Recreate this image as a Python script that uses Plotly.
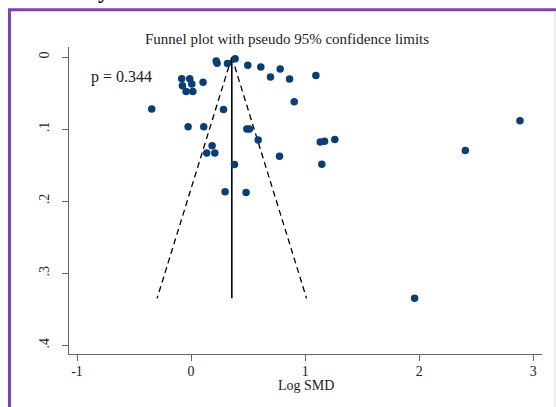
import plotly.graph_objects as go

# Study estimates (Log SMD) and their standard errors
log_smd = [0.220, 0.228, 0.319, 0.386, 0.497, 0.611, 0.781, 0.696, 0.863, 1.094,
           0.904, -0.082, -0.012, -0.076, 0.006, -0.044, 0.015, 0.105, -0.345, 0.284,
           -0.026, 0.111, 0.489, 0.512, 0.588, 0.184, 0.137, 0.208, 0.775, 1.132,
           1.170, 1.260, 1.146, 0.380, 0.298, 0.482, 2.883, 2.404, 1.959]
se_smd = [0.0055, 0.0085, 0.0089, 0.0024, 0.0116, 0.0139, 0.0167, 0.0278, 0.0306, 0.0255,
          0.0620, 0.0300, 0.0300, 0.0400, 0.0375, 0.0480, 0.0480, 0.0350, 0.0720, 0.0727,
          0.0968, 0.0968, 0.1000, 0.1000, 0.1150, 0.1230, 0.1330, 0.1330, 0.1375, 0.1180,
          0.1170, 0.1144, 0.1486, 0.1490, 0.1870, 0.1880, 0.0885, 0.1297, 0.3347]

# Pooled estimate line and pseudo 95% confidence limits
pooled_x = [0.357, 0.357]
pooled_y = [0.0, 0.3347]
lower_x = [0.357, -0.298]
lower_y = [0.0, 0.3347]
upper_x = [0.357, 1.012]
upper_y = [0.0, 0.3347]

x_ticks = [-1, 0, 1, 2, 3]
x_tick_text = ["-1", "0", "1", "2", "3"]
y_ticks = [0, 0.1, 0.2, 0.3, 0.4]
y_tick_text = ["0", ".1", ".2", ".3", ".4"]

title_text = "Funnel plot with pseudo 95% confidence limits"
p_text = "p = 0.344"
x_title = "Log SMD"

FONT = "Liberation Serif"
W, H = 556, 407
L, R, T, B = 69, 541.7, 47.3, 354.3
pw, ph = R - L, B - T

def px(xp):
    return (xp - L) / pw

def py(yp):
    return (B - yp) / ph

fig = go.Figure()
fig.add_trace(go.Scatter(x=lower_x, y=lower_y, mode="lines",
                         line=dict(color="black", width=1.3, dash="6px,4px"),
                         hoverinfo="skip", showlegend=False))
fig.add_trace(go.Scatter(x=upper_x, y=upper_y, mode="lines",
                         line=dict(color="black", width=1.3, dash="6px,4px"),
                         hoverinfo="skip", showlegend=False))
fig.add_trace(go.Scatter(x=pooled_x, y=pooled_y, mode="lines",
                         line=dict(color="black", width=1.6),
                         hoverinfo="skip", showlegend=False))
fig.add_trace(go.Scatter(x=log_smd, y=se_smd, mode="markers",
                         marker=dict(color="#0b3f73", size=7.5, line=dict(width=0)),
                         showlegend=False))

fig.update_layout(
    width=W, height=H,
    margin=dict(l=L, r=W - R, t=T, b=H - B),
    paper_bgcolor="white", plot_bgcolor="white",
    font=dict(family=FONT, color="#222", size=14),
    showlegend=False,
)
fig.update_xaxes(range=[-1.0702, 3.076], tickmode="array", tickvals=x_ticks,
                 ticktext=x_tick_text, showgrid=False, zeroline=False,
                 showline=True, linecolor="#666", linewidth=1.3,
                 ticks="outside", ticklen=6, tickcolor="#666", tickwidth=1.2,
                 ticklabelstandoff=-2,
                 tickfont=dict(family=FONT, size=14, color="#222"))
fig.update_yaxes(range=[0.4119, -0.01387], tickmode="array", tickvals=y_ticks,
                 ticktext=y_tick_text, showgrid=False, zeroline=False,
                 showline=True, linecolor="#666", linewidth=1.3,
                 ticks="outside", ticklen=6, tickcolor="#666", tickwidth=1.2,
                 tickangle=-90, ticklabelstandoff=7,
                 tickfont=dict(family=FONT, size=14, color="#222"))

# title
fig.add_annotation(text=title_text, xref="paper", yref="paper",
                   x=px(287), y=py(39), xanchor="center", yanchor="middle",
                   showarrow=False, font=dict(family=FONT, size=15, color="#222"))
# x axis title
fig.add_annotation(text=x_title, xref="paper", yref="paper",
                   x=px(305.5), y=py(386), xanchor="center", yanchor="middle",
                   showarrow=False, font=dict(family=FONT, size=14, color="#222"))
# p value
fig.add_annotation(text=p_text, xref="x", yref="y", x=-0.892, y=0.0273,
                   xanchor="left", yanchor="middle", showarrow=False,
                   font=dict(family=FONT, size=16, color="#222"))
# cut-off text fragment at top of page
fig.add_annotation(text="<b>y</b>", xref="paper", yref="paper",
                   x=px(103), y=py(4), xanchor="center", yanchor="bottom",
                   borderpad=0, showarrow=False,
                   font=dict(family=FONT, size=22, color="black"))

# purple frame and thin right edge
fig.add_shape(type="rect", xref="paper", yref="paper",
              x0=px(9.5), x1=px(580), y0=py(440), y1=py(10),
              line=dict(color="#7e42b3", width=3), fillcolor="rgba(0,0,0,0)")
fig.add_shape(type="line", xref="paper", yref="paper",
              x0=px(554.5), x1=px(554.5), y0=py(12), y1=py(440),
              line=dict(color="#dfe3e6", width=1.2))

fig.write_html("out.html")
